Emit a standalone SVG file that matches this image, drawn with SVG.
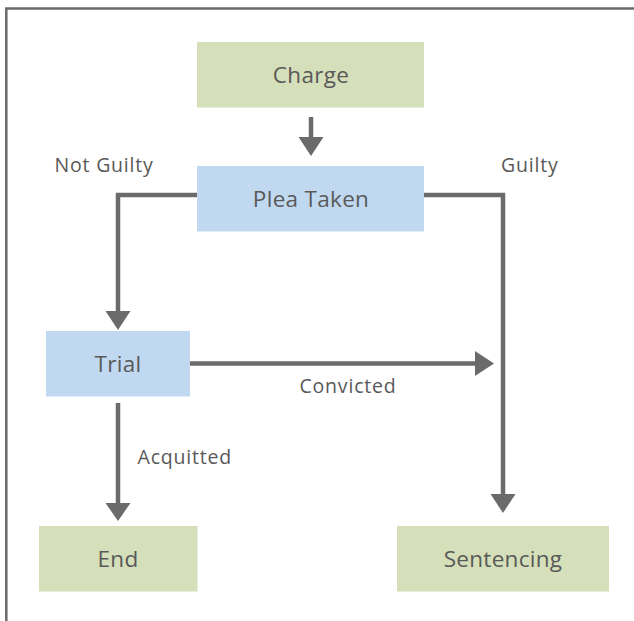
<svg xmlns="http://www.w3.org/2000/svg" width="634" height="621" viewBox="0 0 634 621">
  <style>
    .frame { fill: none; stroke: #6a6a6a; stroke-width: 2.5; }
    .green { fill: #d5dfb9; }
    .blue { fill: #c1d9f0; }
    .node-label { font-family: "Open Sans", "Noto Sans", sans-serif; font-size: 22.5px; letter-spacing: 0.3px; fill: #595959; text-anchor: middle; }
    .edge-label { font-family: "Open Sans", "Noto Sans", sans-serif; font-size: 19.5px; letter-spacing: 0.8px; fill: #595959; }
    .wire { fill: none; stroke: #6b6b6b; stroke-width: 4.5; }
    .head { fill: #6b6b6b; }
  </style>

  <!-- outer frame, open to the right and bottom -->
  <path class="frame" d="M6.3,621 V8.5 H634"/>

  <g id="connectors">
    <!-- Charge to Plea Taken -->
    <line class="wire" x1="311" y1="117" x2="311" y2="138"/>
    <polygon class="head" points="298.5,137 323.5,137 311,156"/>
    <!-- Not Guilty: Plea Taken to Trial -->
    <polyline class="wire" points="197,195 118,195 118,313"/>
    <polygon class="head" points="105.5,311 130.5,311 118,330"/>
    <!-- Guilty: Plea Taken to Sentencing -->
    <polyline class="wire" points="424,195 503,195 503,496"/>
    <polygon class="head" points="490.5,494 515.5,494 503,513"/>
    <!-- Convicted: Trial toward sentencing line -->
    <line class="wire" x1="190" y1="363.5" x2="477" y2="363.5"/>
    <polygon class="head" points="475,351 475,376 494,363.5"/>
    <!-- Acquitted: Trial to End -->
    <line class="wire" x1="118" y1="403" x2="118" y2="505"/>
    <polygon class="head" points="105.5,503 130.5,503 118,521"/>

    <text class="edge-label" x="54.5" y="171.5">Not Guilty</text>
    <text class="edge-label" x="501" y="171.5">Guilty</text>
    <text class="edge-label" x="299.5" y="392.5">Convicted</text>
    <text class="edge-label" x="137.5" y="464">Acquitted</text>
  </g>

  <g id="charge">
    <rect class="green" x="197" y="42" width="227" height="65.5"/>
    <text class="node-label" x="311" y="83">Charge</text>
  </g>
  <g id="plea-taken">
    <rect class="blue" x="197" y="166" width="227" height="65.5"/>
    <text class="node-label" x="311" y="207">Plea Taken</text>
  </g>
  <g id="trial">
    <rect class="blue" x="46" y="331" width="144" height="65.5"/>
    <text class="node-label" x="118" y="372">Trial</text>
  </g>
  <g id="end">
    <rect class="green" x="39" y="526" width="158.5" height="65.5"/>
    <text class="node-label" x="118" y="567">End</text>
  </g>
  <g id="sentencing">
    <rect class="green" x="397" y="526" width="212" height="65.5"/>
    <text class="node-label" x="503" y="567">Sentencing</text>
  </g>
</svg>
